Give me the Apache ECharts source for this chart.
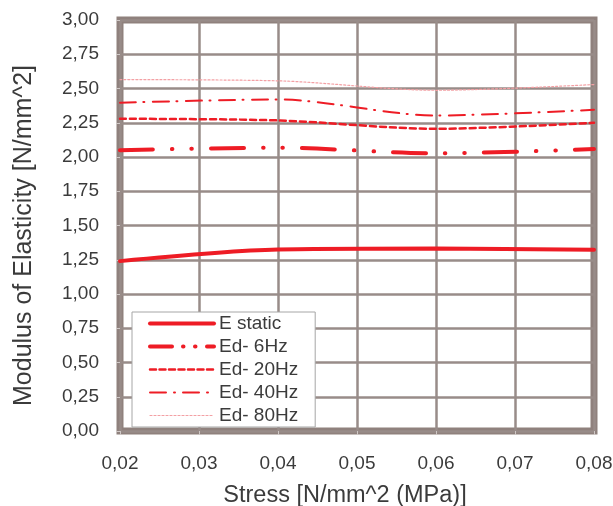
<!DOCTYPE html>
<html>
<head>
<meta charset="utf-8">
<script src="https://cdn.jsdelivr.net/npm/echarts@6/dist/echarts.min.js"></script>
<style>
html,body{margin:0;padding:0;background:#fff;}
#chart{width:613px;height:506px;}
</style>
</head>
<body>
<div id="chart"></div>
<script>
var stress = [0.02, 0.04, 0.06, 0.08];
var eStatic = [1.24, 1.325, 1.332, 1.323];
var ed6Hz = [2.05, 2.068, 2.027, 2.058];
var ed20Hz = [2.279, 2.267, 2.206, 2.25];
var ed40Hz = [2.396, 2.42, 2.303, 2.345];
var ed80Hz = [2.565, 2.556, 2.487, 2.529];
var seriesNames = ['E static', 'Ed- 6Hz', 'Ed- 20Hz', 'Ed- 40Hz', 'Ed- 80Hz'];

function pairs(ys) { return stress.map(function (x, i) { return [x, ys[i]]; }); }
function comma(v) { return v.toFixed(2).replace('.', ','); }

var RED = '#ee1c25';
var TXT = '#3b3b3b';
var FONT = 'Liberation Sans, Arial, sans-serif';

var styles = [
  { color: RED, width: 4, type: 'solid', legendType: 'solid' },
  { color: RED, width: 4, type: [33, 19, 0.5, 19, 0.5, 19], legendType: [22, 11, 0.5, 11.5, 0.5, 11.5] },
  { color: RED, width: 2.5, type: [6, 4], legendType: [6, 3.5] },
  { color: RED, width: 2, type: [16, 7.5, 1, 8.5], legendType: [16, 8, 1, 8] },
  { color: '#f3a0a4', width: 1.2, type: [2, 2], legendType: [2, 2] }
];
var values = [eStatic, ed6Hz, ed20Hz, ed40Hz, ed80Hz];

var chart = echarts.init(document.getElementById('chart'), null, { renderer: 'canvas' });
chart.setOption({
  animation: false,
  backgroundColor: '#fff',
  textStyle: { fontFamily: FONT },
  grid: {
    left: 120, right: 19, top: 20, bottom: 75,
    containLabel: false,
    outerBoundsMode: 'none',
    show: true, borderColor: '#8f817d', borderWidth: 7, backgroundColor: 'transparent'
  },
  legend: {
    orient: 'vertical',
    left: 132, top: 312,
    padding: [2, 17, 2, 16],
    itemGap: 4,
    itemWidth: 64, itemHeight: 14,
    backgroundColor: '#fff',
    borderColor: '#a6a6a6', borderWidth: 1, borderRadius: 0,
    textStyle: { fontSize: 19, color: TXT, fontFamily: FONT },
    itemStyle: { opacity: 0 },
    data: seriesNames.map(function (n, i) {
      return {
        name: n,
        itemStyle: { opacity: 0 },
        lineStyle: { color: styles[i].color, width: styles[i].width, type: styles[i].legendType, cap: 'round' }
      };
    })
  },
  xAxis: {
    type: 'value',
    min: 0.02, max: 0.08, interval: 0.01,
    name: 'Stress [N/mm^2 (MPa)]',
    nameLocation: 'middle',
    nameGap: 53,
    nameTextStyle: { fontSize: 23.5, color: TXT, fontFamily: FONT, padding: [0, 24, 0, 0] },
    axisLine: { show: false },
    axisTick: { show: true, length: 4, lineStyle: { color: '#cfc8c6', width: 1 } },
    axisLabel: { fontSize: 19, color: TXT, margin: 23, formatter: comma },
    splitLine: { show: true, lineStyle: { color: '#988c89', width: 2.5 } }
  },
  yAxis: {
    type: 'value',
    min: 0, max: 3, interval: 0.25,
    name: 'Modulus of Elasticity [N/mm^2]',
    nameLocation: 'middle',
    nameGap: 83,
    nameTextStyle: { fontSize: 25, color: TXT, fontFamily: FONT, padding: [0, 20, 0, 0] },
    axisLine: { show: false },
    axisTick: { show: true, length: 4, lineStyle: { color: '#cfc8c6', width: 1 } },
    axisLabel: { fontSize: 19, color: TXT, margin: 21, formatter: comma },
    splitLine: { show: true, lineStyle: { color: '#988c89', width: 2.5 } }
  },
  series: seriesNames.map(function (n, i) {
    return {
      name: n,
      type: 'line',
      data: pairs(values[i]),
      smooth: 0.3,
      symbol: 'none',
      color: styles[i].color,
      lineStyle: { color: styles[i].color, width: styles[i].width, type: styles[i].type, cap: 'round' },
      z: 10 - i
    };
  })
});
</script>
</body>
</html>
